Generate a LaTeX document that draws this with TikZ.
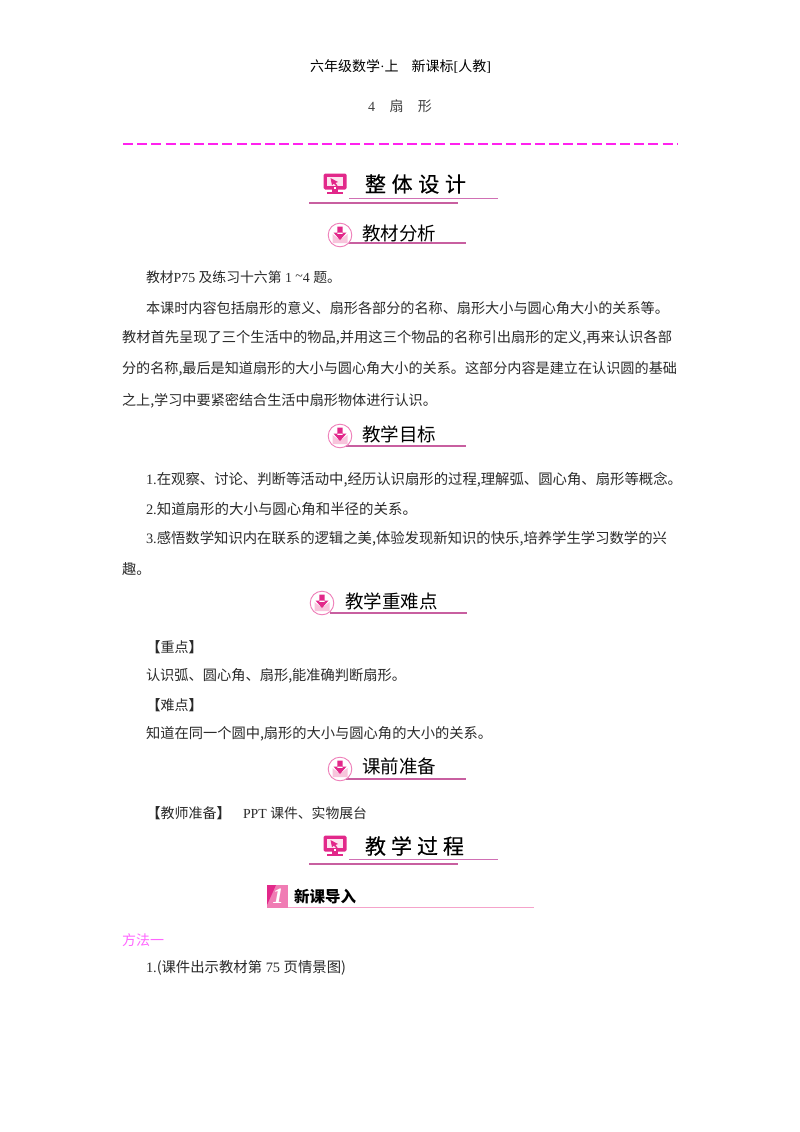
\documentclass[tikz,border=0pt]{standalone}
\usepackage{graphicx}
\usepackage{fontspec}
\setmainfont{Noto Sans CJK SC}
\newfontfamily\latf{Liberation Serif}
\newfontfamily\bigf[FakeBold=0.3]{Noto Sans CJK SC}
\definecolor{iconpink}{HTML}{E2288A}
\definecolor{rulepink}{HTML}{D070B4}
\definecolor{rulestrong}{HTML}{C85FA0}
\definecolor{softpink}{HTML}{F8C4DC}
\definecolor{boxpink}{HTML}{F07CB4}
\definecolor{dashpink}{HTML}{FF22EE}
\definecolor{methodpink}{HTML}{FF66FF}
\definecolor{bodyink}{HTML}{2A2A2A}
\newcommand{\lat}[1]{{\latf #1}}
% \tl{name}{y}{x}{width}{text}: one text line scaled to a fixed width
\newcommand{\tl}[5]{\node[bodytext] (#1) at (#3,#2) {\resizebox{#4pt}{!}{#5}};}
\tikzset{
  x=1pt,y=-1pt,
  bodytext/.style={anchor=west,inner sep=0pt,outer sep=0pt,text=bodyink,font=\fontsize{14}{14}\selectfont},
  headtext/.style={anchor=west,inner sep=0pt,outer sep=0pt,text=black,font=\fontsize{18.5}{18.5}\selectfont},
  bigtext/.style={anchor=west,inner sep=0pt,outer sep=0pt,text=black,font=\bigf\fontsize{21}{21}\selectfont},
  ruleline/.style={draw=rulepink,line width=1pt},
  rulelow/.style={draw=rulestrong,line width=1.4pt},
  ruleicon/.style={draw=rulestrong,line width=1.4pt},
  screenicon/.pic={
    \fill[iconpink,rounded corners=1.5pt] (-11.5,-10.5) rectangle (11.5,5.5);
    \fill[softpink!45] (-8,-7.5) rectangle (8,2);
    \fill[iconpink] (-4.5,-6) -- (3,-2) -- (0.4,-1) -- (2.6,1.5) -- (1,2) -- (-1.2,-0.3) -- (-3,1.4) -- cycle;
    \fill[iconpink] (-3,5) rectangle (3,8);
    \fill[iconpink] (-8,7.5) rectangle (8,10);
    \fill[white] (-0.8,3.2) rectangle (0.8,4.6);
  },
  arrowicon/.pic={
    \draw[iconpink!60,line width=0.9pt,fill=white] (0,0) circle (11.8);
    \fill[softpink] (-7.5,-1) -- (-2.5,3) -- (2.5,3) -- (7.5,-1) -- (7.5,8) -- (-7.5,8) -- cycle;
    \fill[iconpink] (-2.6,-8.5) rectangle (2.6,-1) (-6.5,-2.5) -- (6.5,-2.5) -- (0,5) -- cycle;
  }
}
\begin{document}
\begin{tikzpicture}
\useasboundingbox (0,0) rectangle (800,1132);
\fill[white] (0,0) rectangle (800,1132);

\node[bodytext,text=black] (header) at (310,66) {\hbox to 181pt{六年级数学\lat{·}上\hfil 新课标\lat{[}人教\lat{]}}};
\node[bodytext,text=black!75] (title) at (368,106) {\hbox to 64pt{\lat{4}\hfil 扇\hfil 形}};

\coordinate (dashL) at (123,144);
\coordinate (dashR) at (678,144);
\draw[dashpink,line width=1.3pt,dash pattern=on 10pt off 4.2pt] (dashL) -- (dashR);

% 整体设计
\pic at (335,184) {screenicon};
\node[bigtext] (h1) at (365,184) {\hbox to 101pt{整\hfil 体\hfil 设\hfil 计}};
\coordinate (h1a) at (349,198); \coordinate (h1b) at (498,198);
\coordinate (h1c) at (309,203); \coordinate (h1d) at (458,203);
\draw[ruleline] (h1a) -- (h1b);
\draw[rulelow] (h1c) -- (h1d);

% 教材分析
\coordinate (h2a) at (346,243); \coordinate (h2b) at (466,243);
\draw[ruleicon] (h2a) -- (h2b);
\pic at (340,235) {arrowicon};
\node[headtext] (h2) at (362,233) {\hbox to 75pt{教材分析}};

\tl{p1}{277}{146}{195}{教材\lat{P75 }及练习十六第\lat{ 1 \raisebox{2pt}{\textasciitilde}4 }题。}
\tl{p2}{308}{146}{523}{本课时内容包括扇形的意义、扇形各部分的名称、扇形大小与圆心角大小的关系等。}
\tl{p3}{338}{122}{550}{教材首先呈现了三个生活中的物品,并用这三个物品的名称引出扇形的定义,再来认识各部}
\tl{p4}{369}{122}{555}{分的名称,最后是知道扇形的大小与圆心角大小的关系。这部分内容是建立在认识圆的基础}
\tl{p5}{401}{122}{315}{之上,学习中要紧密结合生活中扇形物体进行认识。}

% 教学目标
\coordinate (h3a) at (346,446); \coordinate (h3b) at (466,446);
\draw[ruleicon] (h3a) -- (h3b);
\pic at (340,436) {arrowicon};
\node[headtext] (h3) at (362,434) {\hbox to 75pt{教学目标}};

\tl{g1}{480}{146}{536}{\lat{1.}在观察、讨论、判断等活动中,经历认识扇形的过程,理解弧、圆心角、扇形等概念。}
\tl{g2}{509}{146}{271}{\lat{2.}知道扇形的大小与圆心角和半径的关系。}
\tl{g3}{539}{146}{521}{\lat{3.}感悟数学知识内在联系的逻辑之美,体验发现新知识的快乐,培养学生学习数学的兴}
\tl{g4}{569}{122}{28.5}{趣。}

% 教学重难点
\coordinate (h4a) at (330,613); \coordinate (h4b) at (467,613);
\draw[ruleicon] (h4a) -- (h4b);
\pic at (322,603) {arrowicon};
\node[headtext] (h4) at (345,601) {\hbox to 93pt{教学重难点}};

\node[bodytext] (k1) at (146.5,647) {\textbf{【}重点\textbf{】}};
\tl{k2}{676}{146}{260}{认识弧、圆心角、扇形,能准确判断扇形。}
\node[bodytext] (k3) at (146.5,705) {\textbf{【}难点\textbf{】}};
\tl{k4}{734}{146}{346}{知道在同一个圆中,扇形的大小与圆心角的大小的关系。}

% 课前准备
\coordinate (h5a) at (346,779); \coordinate (h5b) at (466,779);
\draw[ruleicon] (h5a) -- (h5b);
\pic at (340,769) {arrowicon};
\node[headtext] (h5) at (362,766) {\hbox to 75pt{课前准备}};

\node[bodytext] (t1) at (146.5,813) {\textbf{【}教师准备\textbf{】}};
\tl{t2}{813}{243}{124}{\lat{PPT }课件、实物展台}

% 教学过程
\pic at (335,846) {screenicon};
\node[bigtext] (h6) at (365,846) {\hbox to 99pt{教\hfil 学\hfil 过\hfil 程}};
\coordinate (h6a) at (349,859); \coordinate (h6b) at (498,859);
\coordinate (h6c) at (309,864); \coordinate (h6d) at (458,864);
\draw[ruleline] (h6a) -- (h6b);
\draw[rulelow] (h6c) -- (h6d);

% 新课导入
\fill[boxpink] (267,885) rectangle (288,908);
\fill[iconpink] (267,905) -- (276,885) -- (267,885) -- cycle;
\node[inner sep=0pt,text=white] (n1) at (278,896.5) {\latf\bfseries\itshape\fontsize{22}{22}\selectfont 1};
\node[anchor=west,inner sep=0pt,text=black,font=\fontsize{15.5}{15.5}\selectfont\bfseries] (n2) at (294,897) {\hbox to 64pt{新课导入}};
\coordinate (n3) at (288,907.5); \coordinate (n4) at (534,907.5);
\draw[boxpink!70,line width=1.3pt] (n3) -- (n4);

\node[bodytext,text=methodpink] (m1) at (122,940) {方法一};
\tl{m2}{968}{146}{200}{\lat{1.}(课件出示教材第\lat{ 75 }页情景图)}
\end{tikzpicture}
\end{document}
